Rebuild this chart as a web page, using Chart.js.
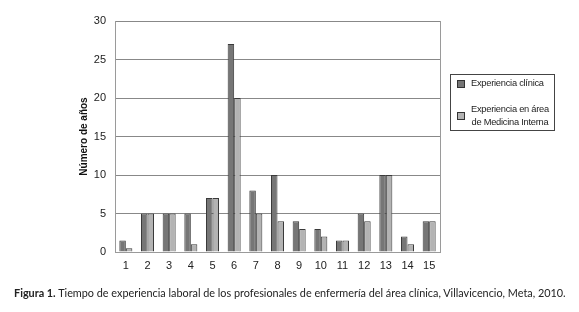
<!DOCTYPE html>
<html><head><meta charset="utf-8">
<script src="https://cdn.jsdelivr.net/npm/chart.js@4"></script>
<style>
html,body{margin:0;padding:0;background:#fff;}
#wrap{position:relative;width:579px;height:312px;overflow:hidden;}
#c{position:absolute;left:0;top:0;}
#legend{position:absolute;left:450px;top:74px;width:105px;height:57px;border:1px solid #444;box-sizing:border-box;font-family:"Liberation Sans Narrow","Arial Narrow","Liberation Sans",Arial,sans-serif;font-size:9.3px;letter-spacing:-0.25px;color:#222;}
.li{position:absolute;left:6px;display:flex;align-items:center;white-space:nowrap;}
.sw{width:6px;height:6px;border:1px solid #333;margin-right:6px;flex:none;}
#cap{position:absolute;left:14px;top:286px;font-family:Lato,"Open Sans",sans-serif;font-size:10.85px;color:#222;white-space:nowrap;}
</style></head>
<body><div id="wrap"><canvas id="c" width="579" height="312"></canvas><div id="legend"></div>
<div id="cap"><b>Figura 1.</b> Tiempo de experiencia laboral de los profesionales de enfermería del área clínica, Villavicencio, Meta, 2010.</div></div>
<script>
const categories = ["1","2","3","4","5","6","7","8","9","10","11","12","13","14","15"];
const experienciaClinica = [1.5,5,5,5,7,27,8,10,4,3,1.5,5,10,2,4];
const experienciaMedicina = [0.5,5,5,1,7,20,5,4,3,2,1.5,4,10,1,4];
const seriesLabels = ["Experiencia clínica", ["Experiencia en área","de Medicina Interna"]];
const yTicks = [0,5,10,15,20,25,30];

const colors = ["#767676","#b3b3b3"];
const datasets = [
  {label: seriesLabels[0], data: experienciaClinica, backgroundColor: colors[0], borderColor:"#3a3a3a", borderWidth:1},
  {label: seriesLabels[1], data: experienciaMedicina, backgroundColor: colors[1], borderColor:"#3a3a3a", borderWidth:1}
];

const rightBorder = {id:'rb', afterDraw(ch){const a=ch.chartArea,c=ch.ctx;c.save();c.strokeStyle='#9a9a9a';c.lineWidth=1;c.beginPath();c.moveTo(Math.round(a.right)+0.5,a.top);c.lineTo(Math.round(a.right)+0.5,a.bottom);c.stroke();c.restore();}};

new Chart(document.getElementById('c'), {
  type:'bar',
  data:{labels:categories, datasets},
  options:{
    responsive:false, animation:false,
    layout:{padding:{left:76,right:139,top:21,bottom:35}},
    plugins:{legend:{display:false},tooltip:{enabled:false}},
    datasets:{bar:{categoryPercentage:0.6,barPercentage:1}},
    scales:{
      x:{grid:{display:false,drawTicks:false},border:{color:'#9a9a9a'},
         ticks:{color:'#222',font:{family:'"Liberation Sans",Arial',size:11},padding:7},
         afterFit(s){s.height=25;}},
      y:{min:0,max:30,afterBuildTicks(s){s.ticks=yTicks.map(v=>({value:v}));},
         grid:{color:'#888',drawTicks:false},border:{color:'#9a9a9a'},
         ticks:{color:'#222',font:{family:'"Liberation Sans",Arial',size:11},padding:9},
         title:{display:true,text:'Número de años',color:'#111',font:{family:'"Liberation Sans",Arial',size:10,weight:'bold'},padding:2},
         afterFit(s){s.width=39;}}
    }
  },
  plugins:[rightBorder]
});

const lg=document.getElementById('legend');
const tops=[2,28];
datasets.forEach((d,i)=>{
  const el=document.createElement('div');el.className='li';el.style.top=tops[i]+'px';
  const sw=document.createElement('span');sw.className='sw';sw.style.background=d.backgroundColor;
  const t=document.createElement('span');
  const lines=Array.isArray(d.label)?d.label:[d.label];
  t.innerHTML=lines.join('<br>');t.style.lineHeight='13px';t.style.textAlign='center';
  el.appendChild(sw);el.appendChild(t);lg.appendChild(el);
});
</script></body></html>
